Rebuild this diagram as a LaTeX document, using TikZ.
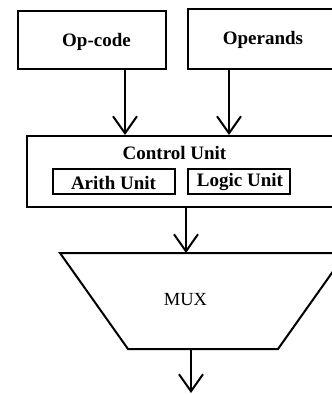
\documentclass[tikz,border=0pt]{standalone}
\usepackage{fontspec}
\setmainfont{Liberation Serif}
\usetikzlibrary{arrows.meta}
\begin{document}
\begin{tikzpicture}[x=1pt,y=-1pt,
  box/.style={draw,line width=2pt,inner sep=0pt},
  lbl/.style={font=\fontsize{19}{19}\selectfont\bfseries,inner sep=0pt},
  muxlbl/.style={font=\fontsize{18.5}{18.5}\selectfont,inner sep=0pt},
  arr/.style={line width=2pt,-{Straight Barb[length=17pt,width=24pt,line width=2pt]}}]
\useasboundingbox (0,0) rectangle (332,394);
\clip (0,0) rectangle (332,394);
\fill[white] (0,0) rectangle (332,394);
% boxes
\node[box,minimum width=148pt,minimum height=58pt] (opcode) at (92,40) {};
\node[box,minimum width=152pt,minimum height=60pt] (operands) at (264,39) {};
\node[box,minimum width=313pt,minimum height=71pt] (cu) at (183.5,171.5) {};
\node[box,minimum width=122pt,minimum height=25pt] (arith) at (114,181.5) {};
\node[box,minimum width=102pt,minimum height=25pt] (logic) at (239,181.5) {};
% MUX trapezoid
\coordinate (mtl) at (60,253);
\coordinate (mtr) at (346,253);
\coordinate (mbr) at (278,349);
\coordinate (mbl) at (128,349);
\draw[line width=2pt,line join=miter] (mtl) -- (mtr) -- (mbr) -- (mbl) -- cycle;
\coordinate (out) at (191,393);
% texts
\node[lbl] (t1) at (96.5,42) {Op-code};
\node[lbl] (t2) at (263,40) {Operands};
\node[lbl] (t3) at (174.5,153) {Control Unit};
\node[lbl] (t4) at (113.5,183) {Arith Unit};
\node[lbl] (t5) at (240,182) {Logic Unit};
\node[muxlbl] (t6) at (185.5,300) {MUX};
% connectors
\draw[arr] (125,0 |- opcode.south) -- (125,0 |- cu.north);
\draw[arr] (229,0 |- operands.south) -- (229,0 |- cu.north);
\draw[arr] (186,0 |- cu.south) -- (186,0 |- mtl);
\draw[arr] (191,0 |- mbl) -- (out);
\end{tikzpicture}
\end{document}
